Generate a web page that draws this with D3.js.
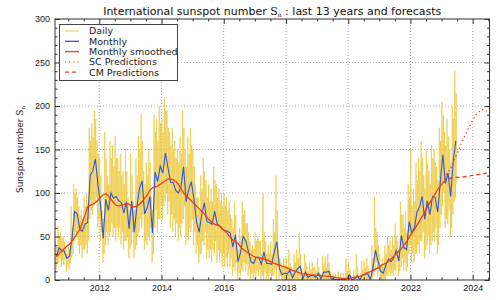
<!DOCTYPE html>
<html>
<head>
<meta charset="utf-8">
<script src="https://cdn.jsdelivr.net/npm/d3@7"></script>
<style>
  body { margin: 0; background: #fff; }
  svg { display: block; font-family: "DejaVu Sans", sans-serif; }
</style>
</head>
<body>
<div id="chart"></div>
<script>
// first month of the monthly / smoothed series
const startYear = 2010;
const startMonth = 8;

// monthly mean sunspot number, Aug 2010 .. Jun 2023
const monthly = [
  27, 37, 34, 33, 25,
  27.3, 48.3, 78.6, 76.1, 58.2, 56.1, 64.5, 65.8, 120.1, 125.7, 139.1, 109.3,
  86, 48, 93, 80, 100, 94, 96, 91, 89, 77, 90, 59,
  91, 55, 84, 105, 114, 76, 83, 96, 54, 124, 113, 131,
  123, 146, 129, 112, 112, 103, 100, 107, 130, 90, 104, 113,
  93, 67, 55, 75, 89, 67, 66, 64, 79, 64, 62, 58,
  57, 56, 54, 38, 52, 21, 32, 50, 45, 33, 21, 19,
  26, 26, 18, 32, 19, 19, 18, 33, 44, 13, 6, 8,
  7, 11, 2.5, 9, 13, 16, 1.6, 9, 3, 5, 5, 3,
  8, 1, 9, 9, 10, 1, 1, 0.5, 1, 0.4, 0.5, 1.5,
  6, 0.2, 1.5, 5, 0.2, 6, 6, 7.5, 0.6, 14, 34, 22,
  10, 8, 17, 24, 21, 25, 34, 22, 51, 37, 35, 67,
  54, 60, 78, 84, 96, 70, 91, 75, 96, 95, 78, 113,
  144, 111, 123, 96, 137, 160
];

// 13-month smoothed, Aug 2010 .. Jan 2023
const smoothed = [
  27, 30, 33, 36, 39,
  41, 45, 49, 54, 58, 66, 75, 84, 86, 87, 89, 92,
  95, 98, 99, 97, 93, 89, 86, 85, 86, 87, 88, 87,
  85, 84, 85, 87, 90, 94, 98, 103, 106, 107, 108, 110,
  112, 114, 116, 116, 115, 113, 110, 105, 100, 97, 94, 91,
  88, 85, 82, 79, 76, 72, 69, 66, 64, 63, 62, 59,
  56, 53, 49, 46, 44, 42, 38, 35, 33, 31, 29, 27,
  26, 25.5, 25, 24, 23, 22, 20.5, 19, 18, 17, 16, 15,
  14, 12.5, 11, 10, 9, 8, 7, 6.7, 6.3, 6, 5.8, 5.6,
  5.3, 5, 4.7, 4.5, 4.2, 3.8, 3.3, 2.8, 2.4, 2.1, 1.9, 1.8,
  2, 2.4, 3, 3.6, 4.5, 5.6, 7, 8.4, 9.6, 11, 12.5, 14,
  16, 18, 19.5, 21.5, 24, 27, 30, 33, 36, 40, 44, 49,
  54, 58, 63, 68, 73, 78, 84, 89, 94, 99, 104, 108,
  112
];

// daily values, 4 samples per month, Aug 2010 .. Jun 2023
const daily = [
  45,12,38,18, 62,20,50,25, 55,15,48,22, 50,17,44,24, 38,10,30,16,
  40,12,35,20, 85,25,60,30, 110,45,100,55, 105,50,95,40, 85,30,75,40, 80,25,70,35, 95,35,85,40, 100,30,88,45, 175,70,160,80, 180,75,165,85, 195,90,185,95, 160,60,145,70,
  140,45,120,55, 80,20,70,30, 170,40,140,55, 120,40,110,50, 160,55,140,65, 155,50,130,60, 165,45,140,60, 140,50,125,60, 145,40,120,55, 125,35,110,45, 150,45,125,50, 95,25,80,35,
  145,40,120,55, 90,25,80,35, 140,40,120,50, 165,55,150,70, 190,60,160,75, 125,35,110,45, 135,40,120,50, 150,45,135,60, 95,20,80,30, 190,60,170,80, 185,55,160,70, 200,70,180,85,
  185,70,170,85, 210,90,195,100, 195,75,175,90, 170,60,155,75, 175,55,150,70, 160,50,140,65, 150,45,135,60, 165,50,145,65, 195,70,175,85, 150,40,130,50, 165,45,145,60, 175,55,155,70,
  150,40,130,55, 110,30,95,40, 95,20,80,30, 120,30,105,45, 140,40,125,55, 115,25,95,35, 110,25,90,35, 105,20,90,35, 130,30,115,45, 110,20,95,35, 105,20,90,30, 100,15,85,30,
  100,15,85,25, 95,15,80,30, 90,15,75,25, 70,5,60,15, 90,10,75,20, 45,0,35,8, 60,5,50,12, 90,10,75,20, 80,10,65,18, 65,5,55,12, 45,0,35,8, 40,0,35,8,
  55,0,45,10, 50,5,45,12, 45,0,30,5, 100,0,55,10, 45,0,30,5, 40,0,30,8, 45,0,30,5, 70,5,55,12, 120,0,80,15, 35,0,25,5, 20,0,15,0, 25,0,18,0,
  25,0,15,0, 35,0,20,0, 15,0,8,0, 30,0,20,0, 35,0,25,0, 55,0,30,5, 12,0,5,0, 30,0,20,0, 15,0,10,0, 20,0,12,0, 20,0,14,0, 15,0,10,0,
  25,0,15,0, 8,0,0,0, 28,0,18,0, 27,0,15,0, 30,0,20,0, 10,0,0,0, 8,0,0,0, 7,0,0,0, 10,0,0,0, 8,0,0,0, 8,0,0,0, 25,0,10,0,
  20,0,12,0, 5,0,0,0, 12,0,5,0, 30,0,15,0, 5,0,0,0, 22,0,12,0, 22,0,14,0, 25,0,16,0, 8,0,0,0, 40,0,25,5, 96,10,60,20, 55,5,40,10,
  30,0,18,0, 25,0,15,0, 40,0,30,5, 50,5,40,10, 45,5,35,8, 50,5,40,12, 65,10,50,20, 45,5,35,10, 90,15,75,25, 75,10,60,20, 80,10,55,15, 110,30,95,40,
  150,20,85,30, 105,20,90,30, 135,30,115,40, 140,30,125,45, 160,45,140,55, 120,25,105,35, 150,40,135,50, 125,30,110,40, 155,45,140,55, 150,45,135,60, 130,30,115,40, 175,60,160,75,
  205,85,190,100, 170,60,155,70, 185,65,165,80, 150,50,135,60, 200,75,185,90, 240,95,215,110
];

// forecasts
const predDates = [2023.04, 2023.125, 2023.29, 2023.46, 2023.62, 2023.79, 2023.96, 2024.12, 2024.29, 2024.45];
const scValues = [112, 120, 128, 142, 156, 169, 181, 191, 196, 194];
const cmValues = [112, 114, 117, 118, 118, 119, 120, 121, 121.5, 123];

const xTicks = [2012, 2014, 2016, 2018, 2020, 2022, 2024];
const yTicks = [0, 50, 100, 150, 200, 250, 300];
const legendLabels = ["Daily", "Monthly", "Monthly smoothed", "SC Predictions", "CM Predictions"];

const width = 500, height = 300;
const plotLeft = 55, plotRight = 489.5, plotTop = 19, plotBottom = 280;

const colDaily = "#ecc431", colMonthly = "#2f56d6", colSmooth = "#f03c1e";

const x = d3.scaleLinear().domain([2010.577, 2024.54]).range([plotLeft, plotRight]);
const y = d3.scaleLinear().domain([0, 300]).range([plotBottom, plotTop]);

const monthTime = (i) => startYear + (startMonth - 1 + i + 0.5) / 12;
const dayTime = (k) => startYear + (startMonth - 1 + (k + 0.5) / 4) / 12;

const svg = d3.select("#chart").append("svg")
  .attr("width", width).attr("height", height);

svg.append("clipPath").attr("id", "clip")
  .append("rect").attr("x", plotLeft).attr("y", plotTop)
  .attr("width", plotRight - plotLeft).attr("height", plotBottom - plotTop);

// grid
const grid = svg.append("g").attr("stroke", "#999").attr("stroke-width", 0.8)
  .attr("stroke-dasharray", "1,2");
grid.selectAll(".gx").data(xTicks).join("line")
  .attr("x1", d => x(d)).attr("x2", d => x(d)).attr("y1", plotTop).attr("y2", plotBottom);
grid.selectAll(".gy").data(yTicks.slice(1, -1)).join("line")
  .attr("x1", plotLeft).attr("x2", plotRight).attr("y1", d => y(d)).attr("y2", d => y(d));

const plot = svg.append("g").attr("clip-path", "url(#clip)");

plot.append("path")
  .datum(daily)
  .attr("fill", "none")
  .attr("stroke", colDaily)
  .attr("stroke-opacity", 0.65)
  .attr("stroke-width", 1)
  .attr("d", d3.line().x((d, i) => x(dayTime(i))).y(d => y(d)));

plot.append("path")
  .datum(monthly)
  .attr("fill", "none")
  .attr("stroke", colMonthly)
  .attr("stroke-width", 1.1)
  .attr("d", d3.line().x((d, i) => x(monthTime(i))).y(d => y(d)));

plot.append("path")
  .datum(smoothed)
  .attr("fill", "none")
  .attr("stroke", colSmooth)
  .attr("stroke-width", 1.3)
  .attr("d", d3.line().x((d, i) => x(monthTime(i))).y(d => y(d)));

const predLine = d3.line().x((d, i) => x(predDates[i])).y(d => y(d));

plot.append("path")
  .datum(scValues)
  .attr("fill", "none")
  .attr("stroke", colSmooth)
  .attr("stroke-width", 1.4)
  .attr("stroke-dasharray", "1.2,3")
  .attr("d", predLine);

plot.append("path")
  .datum(cmValues)
  .attr("fill", "none")
  .attr("stroke", colSmooth)
  .attr("stroke-width", 1.4)
  .attr("stroke-dasharray", "4,3")
  .attr("d", predLine);

// axes with inward ticks on all sides
function styleAxis(g) {
  g.select(".domain").remove();
  g.selectAll("line").attr("stroke", "#333");
  g.selectAll("text").attr("fill", "#222").attr("font-size", 9);
}
const xMinor = d3.range(2011, 2024.6, 0.5).filter(d => d % 2 !== 0);
const yMinor = d3.range(0, 301, 10).filter(d => d % 50 !== 0);

svg.append("g").attr("transform", `translate(0,${plotBottom})`)
  .call(d3.axisBottom(x).tickValues(xTicks).tickFormat(d3.format("d")).tickSize(-5).tickPadding(5))
  .call(styleAxis);
svg.append("g").attr("transform", `translate(0,${plotBottom})`)
  .call(d3.axisBottom(x).tickValues(xMinor).tickFormat("").tickSize(-2.5))
  .call(styleAxis);
svg.append("g").attr("transform", `translate(0,${plotTop})`)
  .call(d3.axisTop(x).tickValues(xTicks).tickFormat("").tickSize(-5))
  .call(styleAxis);
svg.append("g").attr("transform", `translate(0,${plotTop})`)
  .call(d3.axisTop(x).tickValues(xMinor).tickFormat("").tickSize(-2.5))
  .call(styleAxis);
svg.append("g").attr("transform", `translate(${plotLeft},0)`)
  .call(d3.axisLeft(y).tickValues(yTicks).tickSize(-5).tickPadding(5))
  .call(styleAxis);
svg.append("g").attr("transform", `translate(${plotLeft},0)`)
  .call(d3.axisLeft(y).tickValues(yMinor).tickFormat("").tickSize(-2.5))
  .call(styleAxis);
svg.append("g").attr("transform", `translate(${plotRight},0)`)
  .call(d3.axisRight(y).tickValues(yTicks).tickFormat("").tickSize(-5))
  .call(styleAxis);
svg.append("g").attr("transform", `translate(${plotRight},0)`)
  .call(d3.axisRight(y).tickValues(yMinor).tickFormat("").tickSize(-2.5))
  .call(styleAxis);

// frame
svg.append("rect")
  .attr("x", plotLeft).attr("y", plotTop)
  .attr("width", plotRight - plotLeft).attr("height", plotBottom - plotTop)
  .attr("fill", "none").attr("stroke", "#333").attr("stroke-width", 1);

// title
const title = svg.append("text")
  .attr("x", (plotLeft + plotRight) / 2).attr("y", 15)
  .attr("text-anchor", "middle").attr("font-size", 11).attr("fill", "#111");
title.append("tspan").text("International sunspot number ");
title.append("tspan").attr("font-family", "DejaVu Serif").text("S");
title.append("tspan").attr("font-family", "DejaVu Serif").attr("font-size", 6).attr("dy", 2).text("n");
title.append("tspan").attr("dy", -2).text(" : last 13 years and forecasts");

// y label
const ylab = svg.append("text")
  .attr("transform", `translate(23,${(plotTop + plotBottom) / 2}) rotate(-90)`)
  .attr("text-anchor", "middle").attr("font-size", 9).attr("fill", "#222");
ylab.append("tspan").text("Sunspot number ");
ylab.append("tspan").attr("font-family", "DejaVu Serif").text("S");
ylab.append("tspan").attr("font-family", "DejaVu Serif").attr("font-size", 5.5).attr("dy", 2).text("n");

// legend
const legend = svg.append("g");
legend.append("rect")
  .attr("x", 59.5).attr("y", 24.5).attr("width", 118).attr("height", 56)
  .attr("fill", "#fff").attr("stroke", "#444").attr("stroke-width", 1);
const legendStyles = [
  { color: "#f3d77a", dash: null },
  { color: colMonthly, dash: null },
  { color: colSmooth, dash: null },
  { color: colSmooth, dash: "1.2,3" },
  { color: colSmooth, dash: "4,3" }
];
const rows = legend.selectAll(".row").data(legendLabels).join("g")
  .attr("transform", (d, i) => `translate(0,${31 + i * 10.3})`);
rows.append("line")
  .attr("x1", 65).attr("x2", 79)
  .attr("stroke", (d, i) => legendStyles[i].color)
  .attr("stroke-width", 1.3)
  .attr("stroke-dasharray", (d, i) => legendStyles[i].dash);
rows.append("text")
  .attr("x", 89).attr("dy", "0.35em")
  .attr("font-size", 9.5).attr("fill", "#222")
  .text(d => d);
</script>
</body>
</html>
